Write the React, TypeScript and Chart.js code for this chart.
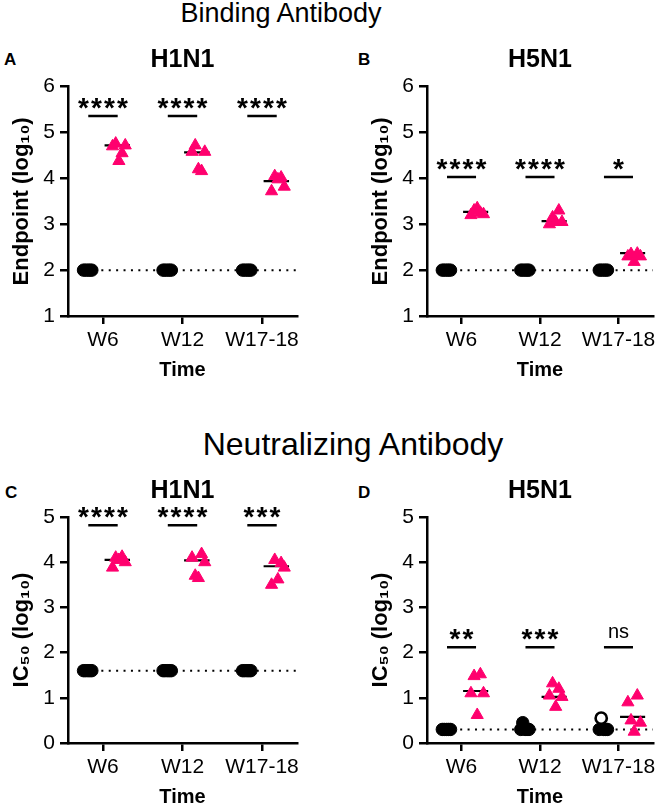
import React, { useEffect, useRef } from 'react';
import { Chart, registerables } from 'chart.js';

Chart.register(...registerables);

const FONT = "'Liberation Sans', Arial, Helvetica, sans-serif";
Chart.defaults.font.family = FONT;
Chart.defaults.color = '#000';

// ---------- data ----------
const categories = ['W6', 'W12', 'W17-18'];

// Binding antibody – H1N1 (endpoint, log10)
const bindH1N1Control = [
  [2, 2, 2, 2, 2],
  [2, 2, 2, 2, 2],
  [2, 2, 2, 2, 2],
];
const bindH1N1Vaccine = [
  [4.70, 4.76, 4.38, 4.55, 4.72],
  [4.58, 4.72, 4.20, 4.16, 4.58],
  [3.72, 4.05, 3.98, 4.02, 3.82],
];
const bindH1N1Mean = [4.72, 4.57, 3.94];
const bindH1N1Sig = ['****', '****', '****'];
const bindH1N1SigLevel = 5.36;

// Binding antibody – H5N1
const bindH5N1Control = [
  [2, 2, 2, 2, 2],
  [2, 2, 2, 2, 2],
  [2, 2, 2, 2, 2],
];
const bindH5N1Vaccine = [
  [3.20, 3.30, 3.35, 3.25, 3.22],
  [3.00, 3.15, 3.05, 3.30, 3.05],
  [2.30, 2.35, 2.18, 2.36, 2.30],
];
const bindH5N1Mean = [3.27, 3.07, 2.37];
const bindH5N1Sig = ['****', '****', '*'];
const bindH5N1SigLevel = 4.03;
const bindingLOD = 2;

// Neutralizing antibody – H1N1 (IC50, log10)
const neutH1N1Control = [
  [1.6, 1.6, 1.6, 1.6, 1.6],
  [1.6, 1.6, 1.6, 1.6, 1.6],
  [1.6, 1.6, 1.6, 1.6, 1.6],
];
const neutH1N1Vaccine = [
  [3.88, 4.10, 4.05, 4.12, 4.00],
  [4.10, 3.70, 3.65, 4.18, 4.00],
  [3.50, 4.05, 3.62, 3.98, 3.88],
];
const neutH1N1Mean = [4.05, 4.04, 3.91];
const neutH1N1Sig = ['****', '****', '***'];
const neutH1N1SigLevel = 4.82;
const neutH1N1LOD = 1.6;

// Neutralizing antibody – H5N1
const neutH5N1Control = [
  [0.3, 0.3, 0.3, 0.3, 0.3],
  [0.3, 0.45, 0.3, 0.3, 0.3],
  [0.3, 0.55, 0.3, 0.3, 0.3],
];
const neutH5N1Vaccine = [
  [1.10, 1.48, 0.62, 1.52, 1.10],
  [1.05, 1.32, 0.80, 1.20, 1.02],
  [0.90, 0.50, 0.25, 1.05, 0.45],
];
const neutH5N1Mean = [1.15, 1.02, 0.58];
const neutH5N1Sig = ['**', '***', 'ns'];
const neutH5N1SigLevel = 2.12;
const neutH5N1LOD = 0.3;

// ---------- layout / style ----------
const PINK = '#ff006e';
const X_MIN = -0.44;
const X_MAX = 2.44;
const circleOffsets = [-0.245, -0.22, -0.19, -0.165, -0.14];
const triOffsets = [0.12, 0.16, 0.2, 0.24, 0.28];
const meanSpan = [0.02, 0.34];
const barHalf = 0.185;

type PanelCfg = {
  left: number; top: number; width: number; height: number;
  padTop: number; padRight: number; titleBaseline: number;
  title: string; yTitle: string; yMin: number; yMax: number;
  control: number[][]; vaccine: number[][]; mean: number[];
  sig: string[]; sigLevel: number; lod: number; open: number[][];
};

const panels: PanelCfg[] = [
  {
    left: 0, top: 40, width: 310, height: 350, padTop: 46.7, padRight: 13, titleBaseline: 26.5,
    title: 'H1N1', yTitle: 'Endpoint (log₁₀)', yMin: 1, yMax: 6,
    control: bindH1N1Control, vaccine: bindH1N1Vaccine, mean: bindH1N1Mean,
    sig: bindH1N1Sig, sigLevel: bindH1N1SigLevel, lod: bindingLOD, open: [],
  },
  {
    left: 359, top: 40, width: 310, height: 350, padTop: 46.7, padRight: 16, titleBaseline: 26.5,
    title: 'H5N1', yTitle: 'Endpoint (log₁₀)', yMin: 1, yMax: 6,
    control: bindH5N1Control, vaccine: bindH5N1Vaccine, mean: bindH5N1Mean,
    sig: bindH5N1Sig, sigLevel: bindH5N1SigLevel, lod: bindingLOD, open: [],
  },
  {
    left: 0, top: 440, width: 310, height: 377, padTop: 77, padRight: 13, titleBaseline: 57.5,
    title: 'H1N1', yTitle: 'IC₅₀ (log₁₀)', yMin: 0, yMax: 5,
    control: neutH1N1Control, vaccine: neutH1N1Vaccine, mean: neutH1N1Mean,
    sig: neutH1N1Sig, sigLevel: neutH1N1SigLevel, lod: neutH1N1LOD, open: [],
  },
  {
    left: 359, top: 440, width: 310, height: 377, padTop: 77, padRight: 16, titleBaseline: 57.5,
    title: 'H5N1', yTitle: 'IC₅₀ (log₁₀)', yMin: 0, yMax: 5,
    control: neutH5N1Control, vaccine: neutH5N1Vaccine, mean: neutH5N1Mean,
    sig: neutH5N1Sig, sigLevel: neutH5N1SigLevel, lod: neutH5N1LOD, open: [[2, 1]],
  },
];

function buildConfig(p: PanelCfg): any {
  const circles: any[] = [];
  const circleBg: string[] = [];
  const circleBorder: string[] = [];
  const circleBW: number[] = [];
  const circleR: number[] = [];
  p.control.forEach((grp, i) =>
    grp.forEach((v, j) => {
      circles.push({ x: i + circleOffsets[j], y: v });
      const open = p.open.some(([a, b]) => a === i && b === j);
      circleBg.push(open ? '#ffffff' : '#000000');
      circleBorder.push('#000000');
      circleBW.push(open ? 2.6 : 1);
      circleR.push(open ? 5.6 : 6.2);
    })
  );
  const tris = p.vaccine.flatMap((grp, i) => grp.map((v, j) => ({ x: i + triOffsets[j], y: v })));
  const means = p.mean.flatMap((m, i) => [
    { x: i + meanSpan[0], y: m },
    { x: i + meanSpan[1], y: m },
    { x: i + 0.5, y: null },
  ]);
  const bars = categories.flatMap((_, i) => [
    { x: i - barHalf, y: p.sigLevel },
    { x: i + barHalf, y: p.sigLevel },
    { x: i + 0.5, y: null },
  ]);
  const lod = [
    { x: -0.3, y: p.lod },
    { x: X_MAX, y: p.lod },
  ];

  const annotate = {
    id: 'annotate',
    afterDatasetsDraw(chart: any) {
      const { ctx, chartArea, scales } = chart;
      ctx.save();
      ctx.fillStyle = '#000';
      ctx.textAlign = 'center';
      ctx.textBaseline = 'alphabetic';
      ctx.font = `bold 25px ${FONT}`;
      ctx.fillText(p.title, (chartArea.left + chartArea.right) / 2, p.titleBaseline);
      const y = scales.y.getPixelForValue(p.sigLevel);
      p.sig.forEach((s, i) => {
        const cx = scales.x.getPixelForValue(i);
        if (s === 'ns') {
          ctx.font = `20px ${FONT}`;
          ctx.fillText(s, cx, y - 9);
        } else {
          ctx.font = `bold 28px ${FONT}`;
          const n = s.length;
          for (let k = 0; k < n; k++) {
            ctx.fillText('*', cx + (k - (n - 1) / 2) * 13, y + 1);
          }
        }
      });
      ctx.restore();
    },
  };

  return {
    type: 'scatter',
    data: {
      datasets: [
        {
          type: 'scatter', data: tris, order: 0,
          pointStyle: 'triangle', pointRadius: 7, pointHoverRadius: 7,
          backgroundColor: PINK, borderColor: PINK, borderWidth: 1,
        },
        {
          type: 'scatter', data: circles, order: 1,
          pointStyle: 'circle', pointRadius: circleR, pointHoverRadius: circleR,
          pointBackgroundColor: circleBg, pointBorderColor: circleBorder, pointBorderWidth: circleBW,
          backgroundColor: '#000', borderColor: '#000',
        },
        {
          type: 'line', data: means, order: 2, pointRadius: 0, borderColor: '#000',
          borderWidth: 2.2, fill: false, spanGaps: false, tension: 0,
        },
        {
          type: 'line', data: bars, order: 3, pointRadius: 0, borderColor: '#000',
          borderWidth: 2.5, fill: false, spanGaps: false, tension: 0, clip: false,
        },
        {
          type: 'line', data: lod, order: 4, pointRadius: 0, borderColor: '#000',
          borderWidth: 2, borderDash: [2, 5.4], fill: false, tension: 0,
        },
      ],
    },
    options: {
      responsive: false,
      animation: false,
      events: [],
      layout: { padding: { top: p.padTop, right: p.padRight, left: 0, bottom: 0 } },
      plugins: { legend: { display: false }, tooltip: { enabled: false }, title: { display: false } },
      scales: {
        x: {
          type: 'linear',
          min: X_MIN,
          max: X_MAX,
          offset: false,
          afterBuildTicks: (axis: any) => {
            axis.ticks = categories.map((_, i) => ({ value: i }));
          },
          afterFit: (scale: any) => {
            scale.height = 74;
          },
          ticks: {
            callback: (v: any) => categories[Math.round(Number(v))] ?? '',
            font: { size: 21 },
            color: '#000',
            padding: 4,
            maxRotation: 0,
            autoSkip: false,
          },
          grid: {
            display: true, drawOnChartArea: false, drawTicks: true,
            tickLength: 8, color: '#000', lineWidth: 2.5,
          },
          border: { display: true, color: '#000', width: 2.5 },
          title: {
            display: true, text: 'Time', color: '#000',
            font: { size: 20, weight: 'bold' }, padding: { top: 0, bottom: 8 },
          },
        },
        y: {
          type: 'linear',
          min: p.yMin,
          max: p.yMax,
          afterFit: (scale: any) => {
            scale.width = 68;
          },
          ticks: { stepSize: 1, font: { size: 21 }, color: '#000', padding: 5 },
          grid: {
            display: true, drawOnChartArea: false, drawTicks: true,
            tickLength: 8, color: '#000', lineWidth: 2.5,
          },
          border: { display: true, color: '#000', width: 2.5 },
          title: {
            display: true, text: p.yTitle, color: '#000',
            font: { size: 22, weight: 'bold' }, padding: { top: 8.8, bottom: 0 },
          },
        },
      },
    },
    plugins: [annotate],
  };
}

function Panel({ p }: { p: PanelCfg }) {
  const ref = useRef<HTMLCanvasElement | null>(null);
  useEffect(() => {
    if (!ref.current) return;
    const chart = new Chart(ref.current, buildConfig(p));
    return () => chart.destroy();
  }, [p]);
  return (
    <canvas
      ref={ref}
      width={p.width}
      height={p.height}
      style={{ position: 'absolute', left: p.left, top: p.top, width: p.width, height: p.height }}
    />
  );
}

const headerStyle: React.CSSProperties = {
  position: 'absolute',
  fontFamily: FONT,
  lineHeight: 1,
  whiteSpace: 'nowrap',
  color: '#000',
  transform: 'translateX(-50%)',
};
const letterStyle: React.CSSProperties = {
  position: 'absolute',
  fontFamily: FONT,
  fontWeight: 'bold',
  fontSize: 17,
  lineHeight: 1,
  color: '#000',
};

export default function App() {
  return (
    <div
      style={{
        position: 'absolute', left: 0, top: 0, width: 660, height: 810,
        overflow: 'hidden', background: '#fff',
      }}
    >
      <div style={{ ...headerStyle, left: 281, top: 0, fontSize: 27 }}>Binding Antibody</div>
      <div style={{ ...headerStyle, left: 353, top: 428, fontSize: 32 }}>Neutralizing Antibody</div>
      <div style={{ ...letterStyle, left: 4, top: 50.5 }}>A</div>
      <div style={{ ...letterStyle, left: 358, top: 50.5 }}>B</div>
      <div style={{ ...letterStyle, left: 5, top: 483.5 }}>C</div>
      <div style={{ ...letterStyle, left: 358, top: 483.5 }}>D</div>
      {panels.map((p, i) => (
        <Panel key={i} p={p} />
      ))}
    </div>
  );
}
